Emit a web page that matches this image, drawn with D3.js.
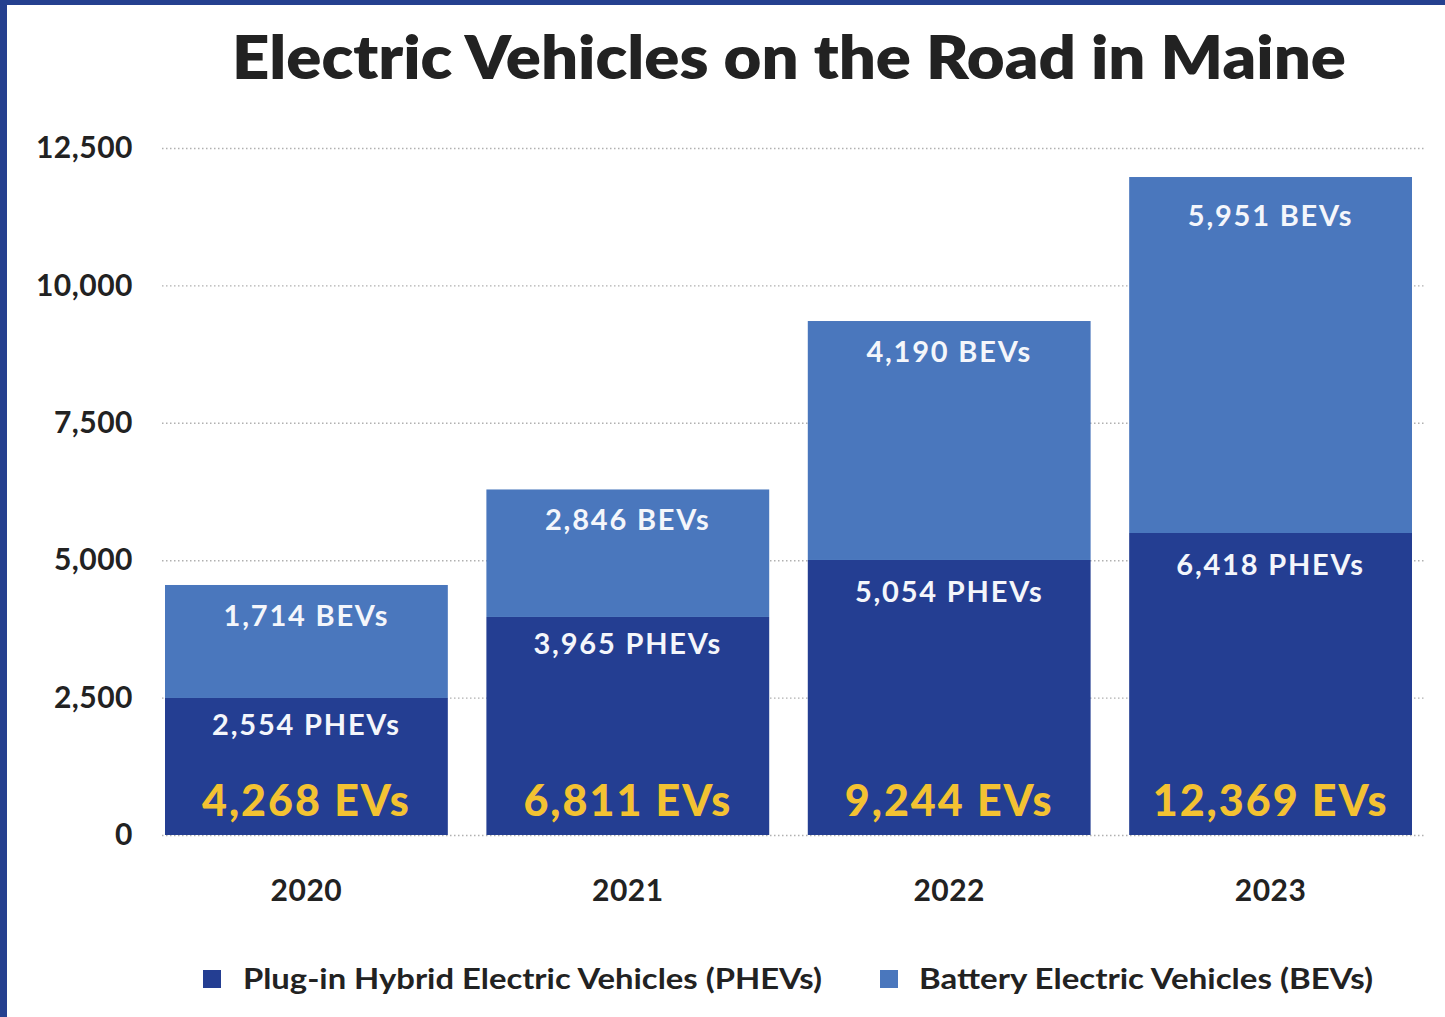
<!DOCTYPE html>
<head>
<meta charset="utf-8">
<script src="https://d3js.org/d3.v7.min.js"></script>
<style>
  body { margin: 0; background: #fff; }
  svg text { font-family: Lato, "Open Sans", sans-serif; }
</style>
</head>
<body>
  <svg id="chart" width="1445" height="1017"></svg>
  <script>
    // years on the x axis
    const years = ["2020", "2021", "2022", "2023"];
    // segment heights as drawn in the picture
    const phevBar = [2493, 3967, 5004, 5495];
    const bevBar = [2056, 2320, 4348, 6477];
    // numbers printed on the bars
    const phevCount = [2554, 3965, 5054, 6418];
    const bevCount = [1714, 2846, 4190, 5951];
    const evTotal = [4268, 6811, 9244, 12369];
    const yTicks = [0, 2500, 5000, 7500, 10000, 12500];
    const seriesNames = ["Plug-in Hybrid Electric Vehicles (PHEVs)", "Battery Electric Vehicles (BEVs)"];

    const dark = "#243e92", light = "#4a77bd", gold = "#f3c232", ink = "#222";
    const fmt = d3.format(",");

    const svg = d3.select("#chart");

    // frame on the left and top
    svg.append("rect").attr("x", 0).attr("y", 0).attr("width", 1445).attr("height", 5).attr("fill", "#25408f");
    svg.append("rect").attr("x", 0).attr("y", 0).attr("width", 7).attr("height", 1017).attr("fill", "#25408f");

    svg.append("text")
      .attr("x", 232).attr("y", 79)
      .attr("textLength", 1114).attr("lengthAdjust", "spacingAndGlyphs")
      .style("font-size", "60px").style("font-weight", 800).attr("fill", ink)
      .text("Electric Vehicles on the Road in Maine");

    const x = d3.scaleBand().domain(years).range([165, 1412]).paddingInner(0.12).paddingOuter(0);
    const y = d3.scaleLinear().domain([0, 12500]).range([835, 148]);

    // dotted grid
    const grid = svg.append("g")
      .attr("transform", "translate(162,0)")
      .call(d3.axisLeft(y).tickValues(yTicks).tickSize(-1263).tickFormat(""));
    grid.select(".domain").remove();
    grid.selectAll("line").attr("stroke", "#b0b0b0").attr("stroke-width", 1.4).attr("stroke-dasharray", "1.5,2.5");

    // y labels
    const yAxis = svg.append("g")
      .attr("transform", "translate(133,0)")
      .call(d3.axisLeft(y).tickValues(yTicks).tickSize(0).tickPadding(0).tickFormat(fmt));
    yAxis.select(".domain").remove();
    yAxis.selectAll("text").attr("fill", ink).style("font-size", "30px").style("font-weight", 700).style("letter-spacing", "0.5px");

    const rows = years.map((yr, i) => ({ yr, phev: phevBar[i], bev: bevBar[i], pc: phevCount[i], bc: bevCount[i], tot: evTotal[i] }));

    const bars = svg.append("g").selectAll("g").data(rows).join("g");
    bars.append("rect")
      .attr("x", d => x(d.yr)).attr("width", x.bandwidth())
      .attr("y", d => y(d.phev)).attr("height", d => y(0) - y(d.phev))
      .attr("fill", dark);
    bars.append("rect")
      .attr("x", d => x(d.yr)).attr("width", x.bandwidth())
      .attr("y", d => y(d.phev + d.bev)).attr("height", d => y(d.phev) - y(d.phev + d.bev))
      .attr("fill", light);

    const cx = d => x(d.yr) + x.bandwidth() / 2;
    bars.append("text")
      .attr("x", cx).attr("y", (d, i) => y(d.phev + d.bev) + (i == 3 ? 49 : 41))
      .attr("text-anchor", "middle").attr("fill", "#f4f6fb")
      .style("font-size", "29px").style("font-weight", 700).style("letter-spacing", "1.8px")
      .text(d => fmt(d.bc) + " BEVs");
    bars.append("text")
      .attr("x", cx).attr("y", (d, i) => y(d.phev) + (i < 2 ? 37 : 42))
      .attr("text-anchor", "middle").attr("fill", "#f4f6fb")
      .style("font-size", "29px").style("font-weight", 700).style("letter-spacing", "1.8px")
      .text(d => fmt(d.pc) + " PHEVs");
    bars.append("text")
      .attr("x", cx).attr("y", 816)
      .attr("text-anchor", "middle").attr("fill", gold)
      .style("font-size", "43px").style("font-weight", 900).style("letter-spacing", "2px")
      .text(d => fmt(d.tot) + " EVs");

    // year labels
    svg.append("g").selectAll("text").data(years).join("text")
      .attr("x", d => x(d) + x.bandwidth() / 2).attr("y", 901)
      .attr("text-anchor", "middle").attr("fill", ink)
      .style("font-size", "30px").style("font-weight", 700).style("letter-spacing", "0.5px")
      .text(d => d);

    // legend
    const legend = [
      { name: seriesNames[0], color: dark, sx: 203, tx: 243, len: 579 },
      { name: seriesNames[1], color: light, sx: 880, tx: 919, len: 454 }
    ];
    const lg = svg.append("g").selectAll("g").data(legend).join("g");
    lg.append("rect").attr("x", d => d.sx).attr("y", 970).attr("width", 18).attr("height", 18).attr("fill", d => d.color);
    lg.append("text")
      .attr("x", d => d.tx).attr("y", 989)
      .attr("textLength", d => d.len).attr("lengthAdjust", "spacingAndGlyphs")
      .attr("fill", ink).style("font-size", "29px").style("font-weight", 700)
      .text(d => d.name);
  </script>
</body>
